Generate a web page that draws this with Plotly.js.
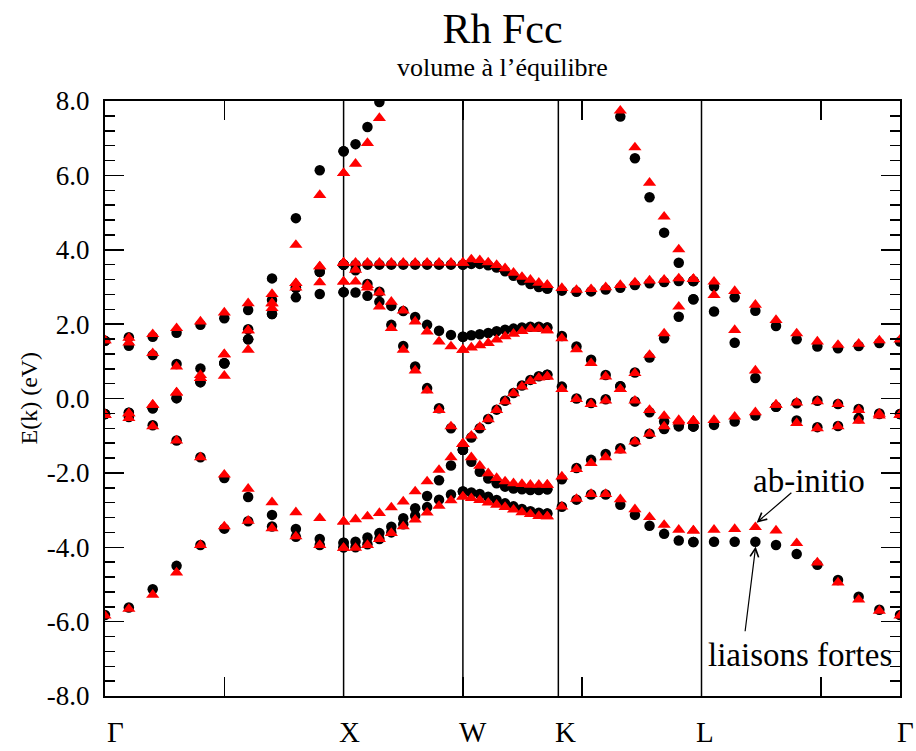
<!DOCTYPE html>
<html>
<head>
<meta charset="utf-8">
<script src="https://cdn.plot.ly/plotly-3.0.1.min.js"></script>
<style>
  html, body { margin: 0; padding: 0; background: #fff; }
  #chart { width: 916px; height: 751px; }
</style>
</head>
<body>
<div id="chart"></div>
<script>
// Rh fcc band structure along Γ-X-W-K-L-Γ, ab-initio vs tight binding.

// path segments (lengths in units of 2π/a) and k points per segment
const segNames = ['Γ-X', 'X-W', 'W-K', 'K-L', 'L-Γ'];
const segLength = [1.0, 0.5, 0.35355, 0.61237, 0.86603];
const stepsPerSeg = 10;

// symmetry point labels and the vertical separators
const symLabels = ['Γ', 'X', 'W', 'K', 'L', 'Γ'];
const symLabelX = [0.042, 1.023, 1.542, 1.928, 2.516, 3.353];
const separators = [1.0, 1.5, 1.9, 2.5];

// y-axis ticks
const yTickVals = [-8, -6, -4, -2, 0, 2, 4, 6, 8];
const yTickText = ['-8.0', '-6.0', '-4.0', '-2.0', '0.0', '2.0', '4.0', '6.0', '8.0'];

// ab-initio energies (eV), one row per band, 11 k points per segment
const abGX = [
  [-5.84, -5.66, -5.28, -4.68, -3.94, -3.44, -3.29, -3.49, -3.71, -3.94, -4.02],
  [-0.44, -0.53, -0.75, -1.13, -1.58, -2.05, -2.43, -2.79, -3.06, -3.22, -3.31],
  [-0.44, -0.40, -0.17, 0.16, 0.55, 0.61, 1.31, 2.43, 2.98, 3.12, 3.14],
  [-0.44, -0.40, -0.17, 0.16, 0.55, 1.19, 1.83, 2.56, 3.10, 3.55, 3.65],
  [1.56, 1.50, 1.22, 0.86, 0.63, 1.19, 1.83, 2.56, 3.10, 3.55, 3.65],
  [1.56, 1.63, 1.73, 1.89, 2.07, 2.31, 2.56, 2.81, 4.13, 5.47, 6.06]
];
const abXW = [
  [-4.02, -4.02, -3.94, -3.78, -3.62, -3.44, -3.26, -3.07, -2.89, -2.74, -2.64],
  [-3.31, -3.25, -3.17, -3.08, -2.93, -2.77, -2.50, -2.23, -1.92, -1.58, -1.22],
  [3.14, 3.14, 2.98, 2.47, 1.89, 1.31, 0.75, 0.21, -0.31, -0.75, -1.22],
  [3.65, 3.46, 3.05, 2.85, 2.60, 2.36, 2.07, 1.80, 1.53, 1.40, 1.31],
  [3.65, 3.65, 3.65, 3.65, 3.65, 3.65, 3.65, 3.65, 3.65, 3.65, 3.65],
  [6.06, 6.31, 6.87, 7.54, null, null, null, null, null, null, null]
];
const abWK = [
  [-2.64, -2.68, -2.73, -2.80, -2.86, -2.92, -2.99, -3.06, -3.11, -3.16, -3.17],
  [-1.22, -1.58, -1.81, -2.01, -2.14, -2.23, -2.28, -2.30, -2.32, -2.32, -2.32],
  [-1.22, -1.00, -0.77, -0.56, -0.31, -0.08, 0.14, 0.32, 0.47, 0.56, 0.59],
  [1.31, 1.37, 1.43, 1.49, 1.58, 1.67, 1.74, 1.81, 1.87, 1.87, 1.83],
  [3.65, 3.74, 3.72, 3.66, 3.59, 3.50, 3.38, 3.27, 3.19, 3.11, 3.05]
];
const abKL = [
  [-3.17, -2.91, -2.70, -2.57, -2.57, -2.71, -2.98, -3.19, -3.40, -3.53, -3.55],
  [-2.32, -2.10, -1.90, -1.74, -1.58, -1.40, -1.16, -0.95, -0.75, -0.62, -0.60],
  [0.59, 0.25, -0.02, -0.15, -0.06, 0.25, 0.68, 1.17, 1.75, 2.47, 3.21],
  [1.83, 1.62, 1.32, 0.95, 0.59, 0.25, -0.06, -0.31, -0.47, -0.58, -0.60],
  [3.05, 2.97, 2.92, 2.94, 2.99, 3.05, 3.12, 3.17, 3.19, 3.23, 3.21],
  [null, null, null, null, null, 7.74, 6.75, 5.80, 4.89, 4.01, 3.21]
];
const abLG = [
  [-3.55, -3.53, -3.51, -3.46, -3.55, -3.89, -4.41, -4.95, -5.41, -5.71, -5.84],
  [-0.60, -0.58, -0.49, -0.37, -0.17, -0.11, -0.08, -0.15, -0.31, -0.41, -0.44],
  [3.21, 2.78, 1.84, 0.75, -0.17, -0.66, -0.80, -0.75, -0.60, -0.46, -0.44],
  [3.21, 3.14, 2.89, 2.52, 2.11, 1.75, 1.53, 1.44, 1.47, 1.56, 1.58]
];

// tight-binding energies (eV)
const tbGX = [
  [-5.82, -5.62, -5.13, -4.50, -3.94, -3.50, -3.30, -3.44, -3.72, -3.94, -4.00],
  [-0.42, -0.50, -0.72, -1.13, -1.58, -2.14, -2.65, -3.13, -3.51, -3.78, -3.88],
  [-0.42, -0.38, -0.26, 0.01, 0.44, 0.95, 1.59, 2.27, 2.72, 2.81, 2.86],
  [-0.42, -0.38, -0.26, 0.01, 0.44, 0.95, 1.59, 2.27, 2.98, 3.41, 3.60],
  [1.55, 1.42, 1.17, 0.93, 0.81, 0.95, 1.86, 2.65, 2.98, 3.41, 3.60],
  [1.55, 1.65, 1.66, 1.77, 1.98, 2.16, 2.38, 3.23, 4.85, 6.14, 6.65]
];
const tbXW = [
  [-4.00, -4.00, -3.92, -3.78, -3.60, -3.38, -3.15, -2.92, -2.72, -2.58, -2.50],
  [-3.88, -3.85, -3.74, -3.62, -3.45, -3.22, -2.95, -2.62, -2.20, -1.80, -1.38],
  [2.86, 2.85, 2.76, 2.60, 1.98, 1.41, 0.86, 0.28, -0.26, -0.80, -1.38],
  [3.60, 3.45, 3.08, 2.87, 2.49, 2.35, 2.19, 1.98, 1.82, 1.71, 1.66],
  [3.60, 3.60, 3.60, 3.60, 3.60, 3.60, 3.60, 3.60, 3.60, 3.60, 3.60],
  [6.65, 6.84, 7.30, 7.97, null, null, null, null, null, null, null]
];
const tbWK = [
  [-2.50, -2.53, -2.57, -2.64, -2.73, -2.82, -2.90, -2.97, -3.03, -3.07, -3.09],
  [-1.38, -1.70, -1.97, -2.15, -2.28, -2.37, -2.42, -2.44, -2.46, -2.46, -2.44],
  [-1.38, -1.05, -0.80, -0.55, -0.30, -0.06, 0.15, 0.35, 0.50, 0.60, 0.64],
  [1.66, 1.70, 1.73, 1.76, 1.81, 1.85, 1.88, 1.91, 1.93, 1.93, 1.91],
  [3.60, 3.62, 3.62, 3.58, 3.52, 3.42, 3.30, 3.18, 3.08, 3.00, 2.96]
];
const tbKL = [
  [-3.09, -2.91, -2.72, -2.58, -2.58, -2.86, -3.13, -3.42, -3.64, -3.82, -3.86],
  [-2.44, -2.17, -1.87, -1.65, -1.49, -1.34, -1.16, -0.95, -0.82, -0.75, -0.75],
  [0.64, 0.32, 0.00, -0.12, -0.02, 0.33, 0.70, 1.10, 1.62, 2.20, 2.67],
  [1.91, 1.68, 1.40, 1.04, 0.63, 0.33, -0.08, -0.37, -0.62, -0.72, -0.75],
  [2.96, 2.90, 2.87, 2.88, 2.93, 2.98, 3.05, 3.10, 3.13, 3.16, 3.16],
  [null, null, null, null, null, 7.58, 6.46, 5.41, 4.46, 3.65, 3.16]
];
const tbLG = [
  [-3.86, -3.85, -3.85, -3.85, -3.94, -4.18, -4.47, -4.88, -5.33, -5.68, -5.82],
  [-0.75, -0.71, -0.62, -0.46, -0.22, -0.13, -0.06, -0.15, -0.28, -0.40, -0.42],
  [2.67, 2.34, 1.50, 0.55, -0.22, -0.59, -0.77, -0.74, -0.53, -0.42, -0.42],
  [3.16, 3.01, 2.72, 2.36, 1.95, 1.59, 1.40, 1.35, 1.41, 1.49, 1.53]
];

const abSegments = [abGX, abXW, abWK, abKL, abLG];
const tbSegments = [tbGX, tbXW, tbWK, tbKL, tbLG];

// k coordinate of every sample along the path
const segStart = [];
let acc = 0;
segLength.forEach(len => { segStart.push(acc); acc += len; });
const kTotal = acc;

function flatten(segments) {
  const xs = [], ys = [];
  segments.forEach((bands, s) => {
    bands.forEach(band => {
      band.forEach((e, i) => {
        if (e === null) return;
        xs.push(segStart[s] + segLength[s] * i / stepsPerSeg);
        ys.push(e);
      });
    });
  });
  return { xs, ys };
}

const tb = flatten(tbSegments);
const ab = flatten(abSegments);

const serif = 'Liberation Serif, Times New Roman, serif';

// plot box in pixels, used to place the free-standing texts
const W = 916, H = 751;
const M = { l: 105, r: 16, t: 101, b: 55 };
const plotW = W - M.l - M.r, plotH = H - M.t - M.b;
const px2paperX = px => (px - M.l) / plotW;
const px2paperY = py => (H - M.b - py) / plotH;

const traces = [
  {
    x: tb.xs, y: tb.ys, type: 'scatter', mode: 'markers', name: 'liaisons fortes',
    marker: { symbol: 'circle', size: 10.5, color: '#000000', line: { width: 0 } },
    hoverinfo: 'x+y'
  },
  {
    x: ab.xs, y: ab.ys, type: 'scatter', mode: 'markers', name: 'ab-initio',
    marker: { symbol: 'triangle-up', size: 11.5, color: '#ff0000', line: { width: 0 } },
    hoverinfo: 'x+y'
  }
];

const shapes = separators.map(xv => ({
  type: 'line', xref: 'x', yref: 'paper', x0: xv, x1: xv, y0: 0, y1: 1,
  line: { color: '#000000', width: 1.5 }, layer: 'below'
}));

const annotations = [];
symLabels.forEach((lab, i) => {
  annotations.push({
    text: lab, xref: 'paper', yref: 'paper',
    x: symLabelX[i] / kTotal, y: px2paperY(750), xanchor: 'center', yanchor: 'bottom',
    showarrow: false, font: { family: serif, size: 29, color: '#000000' }
  });
});

// subtitle
annotations.push({
  text: 'volume à l’équilibre', xref: 'paper', yref: 'paper',
  x: 0.5, y: px2paperY(68), xanchor: 'center', yanchor: 'middle',
  showarrow: false, font: { family: serif, size: 26, color: '#000000' }
});

// y-axis title
annotations.push({
  text: 'E(k) (eV)', xref: 'paper', yref: 'paper', x: px2paperX(28), y: 0.5,
  xanchor: 'center', yanchor: 'middle', textangle: -90, showarrow: false,
  font: { family: serif, size: 24, color: '#000000' }
});

// series labels with pointers
annotations.push({
  text: 'ab-initio', xref: 'x', yref: 'y', x: 2.95, y: -2.22,
  xanchor: 'center', yanchor: 'middle', showarrow: false,
  font: { family: serif, size: 33, color: '#000000' }
});
annotations.push({
  text: 'liaisons fortes', xref: 'x', yref: 'y', x: 2.913, y: -6.9,
  xanchor: 'center', yanchor: 'middle', showarrow: false,
  font: { family: serif, size: 33, color: '#000000' }
});
annotations.push({
  text: '', xref: 'x', yref: 'y', x: 2.731, y: -3.34,
  axref: 'x', ayref: 'y', ax: 2.883, ay: -2.50,
  showarrow: true, arrowhead: 5, arrowsize: 1.4, arrowwidth: 1.2, arrowcolor: '#000000'
});
annotations.push({
  text: '', xref: 'x', yref: 'y', x: 2.727, y: -3.98,
  axref: 'x', ayref: 'y', ax: 2.682, ay: -6.30,
  showarrow: true, arrowhead: 5, arrowsize: 1.4, arrowwidth: 1.2, arrowcolor: '#000000'
});

const layout = {
  width: W, height: H,
  margin: M,
  paper_bgcolor: '#ffffff', plot_bgcolor: '#ffffff',
  showlegend: false,
  title: {
    text: 'Rh Fcc', xref: 'paper', x: 0.5, xanchor: 'center',
    yref: 'container', y: 1 - 28 / H, yanchor: 'middle',
    font: { family: serif, size: 42, color: '#000000' }
  },
  xaxis: {
    range: [0, kTotal], showgrid: false, zeroline: false,
    showline: true, linecolor: '#000000', linewidth: 2, mirror: 'allticks',
    ticks: 'inside', ticklen: 19, tickwidth: 1.5, tickcolor: '#000000',
    tick0: 0, dtick: 0.5, showticklabels: false
  },
  yaxis: {
    range: [-8, 8], showgrid: false, zeroline: false,
    showline: true, linecolor: '#000000', linewidth: 2, mirror: 'allticks',
    ticks: 'inside', ticklen: 19, tickwidth: 1.5, tickcolor: '#000000',
    tickmode: 'array', tickvals: yTickVals, ticktext: yTickText,
    ticklabelstandoff: 8,
    tickfont: { family: serif, size: 27, color: '#000000' },
    minor: { tickmode: 'linear', tick0: -8, dtick: 0.4, ticks: 'inside', ticklen: 10, tickwidth: 1.5, tickcolor: '#000000' }
  },
  shapes: shapes,
  annotations: annotations
};

Plotly.newPlot('chart', traces, layout, { staticPlot: true, displayModeBar: false });
</script>
</body>
</html>
